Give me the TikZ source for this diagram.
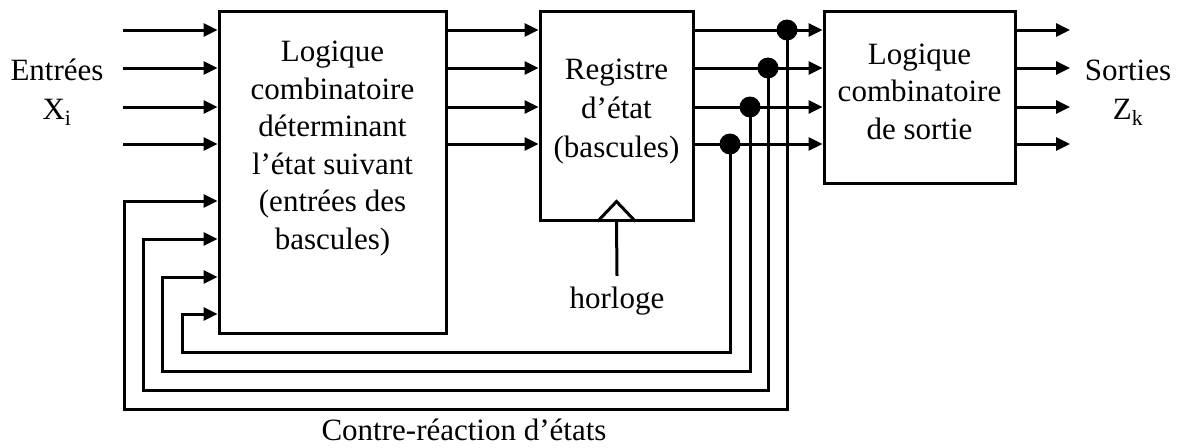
\documentclass[tikz,border=0pt]{standalone}
\usepackage{fontspec}
\setmainfont{Liberation Serif}
\usetikzlibrary{arrows.meta}
\begin{document}
\begin{tikzpicture}[x=1pt,y=-1pt, line width=3pt,
 box/.style={draw, line width=3pt, inner sep=0pt},
 lbl/.style={font=\fontsize{31}{37.5}\selectfont, align=center, inner sep=0pt},
 arr/.style={-{Triangle[length=14pt,width=13pt]}},
 dot/.style={circle, fill, inner sep=0pt, minimum size=21pt}]
\useasboundingbox (0,0) rectangle (1177,447);
% boxes
\node[box, minimum width=227pt, minimum height=322pt] (b1) at (332.5,172) {};
\node[box, minimum width=153pt, minimum height=209pt] (b2) at (616.5,115.5) {};
\node[box, minimum width=191pt, minimum height=172pt] (b3) at (919.5,97) {};
% box texts
\node[lbl] (t1) at (332.5,148.5) {Logique\\combinatoire\\déterminant\\l’état suivant\\(entrées des\\bascules)};
\node[lbl, font=\fontsize{31}{39}\selectfont] (t2) at (616.5,112) {Registre\\d’état\\(bascules)};
\node[lbl] (t3) at (919.5,91.5) {Logique\\combinatoire\\de sortie};
% side labels
\node[lbl, font=\fontsize{31}{39}\selectfont] (xin) at (57,92) {Entrées\\X\textsubscript{i}};
\node[lbl, font=\fontsize{31}{39}\selectfont] (zout) at (1128,92.5) {Sorties\\Z\textsubscript{k}};
\node[lbl] (fb) at (464,430) {Contre-réaction d’états};
% clock
\draw ([xshift=-19pt]b2.south) -- ([yshift=20pt]b2.south) -- ([xshift=19pt]b2.south);
\node[lbl, anchor=base, inner ysep=9pt] (clk) at (617,308) {horloge};
\draw (b2.south) -- (clk.north);
% signal rows
\foreach \y [count=\i] in {30,68,107,144} {
  \coordinate (in\i) at (123,\y);
  \coordinate (out\i) at (1070,\y);
  \draw[arr] (in\i) -- (in\i -| b1.west);
  \draw[arr] (b1.east |- in\i) -- (b2.west |- in\i);
  \draw[arr] (b2.east |- in\i) -- (b3.west |- in\i);
  \draw[arr] (b3.east |- in\i) -- (out\i);
}
% feedback loops
\foreach \i/\x/\yr/\yb/\xl/\yf in {1/787/30/409/124/201, 2/768/68/390/143/239, 3/750/107/371/162/277, 4/730/144/352/182/314} {
  \node[dot] (d\i) at (\x,\yr) {};
  \coordinate (c\i) at (\xl,\yf);
  \draw[arr] (d\i.center) -- (\x,\yb) -- (\xl,\yb) -- (c\i) -- (c\i -| b1.west);
}
\end{tikzpicture}
\end{document}
